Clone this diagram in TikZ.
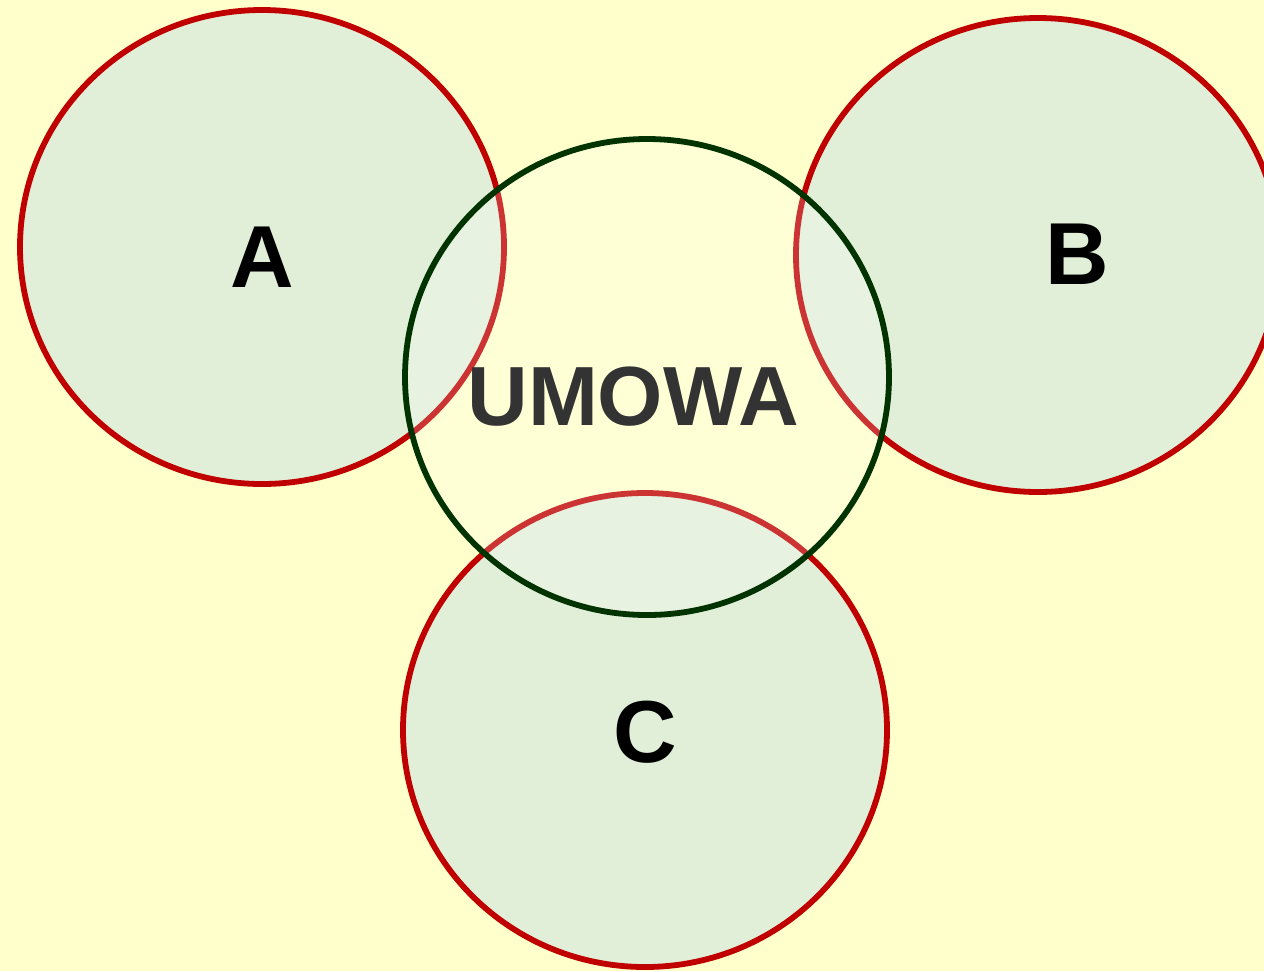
\documentclass[tikz,border=0pt]{standalone}
\usepackage{fontspec}
\setmainfont{Liberation Sans}
\definecolor{bgy}{HTML}{FFFFCC}
\definecolor{cfill}{HTML}{E1EFD9}
\definecolor{cred}{HTML}{C00000}
\definecolor{cgreen}{HTML}{003300}
\definecolor{ctext}{HTML}{333333}
\begin{document}
\begin{tikzpicture}[x=0.5pt,y=-0.5pt,
  party/.style={draw=cred,fill=cfill,line width=2.9pt},
  contract/.style={draw=cgreen,fill=white,fill opacity=0.2,draw opacity=1,line width=2.9pt},
  lbl/.style={font=\fontsize{44}{50}\selectfont\bfseries,text=black,inner sep=0pt}]
\fill[bgy] (0,0) rectangle (1264,971);
\useasboundingbox (0,0) rectangle (1264,971);
\draw[party] (262,247) ellipse [x radius=242, y radius=237];
\draw[party] (1038,255) ellipse [x radius=242, y radius=237];
\draw[party] (645,730) ellipse [x radius=242, y radius=237];
\draw[contract] (647,377) ellipse [x radius=242, y radius=238];
\node[lbl] (a) at (262,257) {A};
\node[lbl] (b) at (1077,254) {B};
\node[lbl] (c) at (645,732) {C};
\node[lbl,text=ctext,font=\fontsize{42}{50}\selectfont\bfseries] (u) at (633,397) {UMOWA};
\end{tikzpicture}
\end{document}
